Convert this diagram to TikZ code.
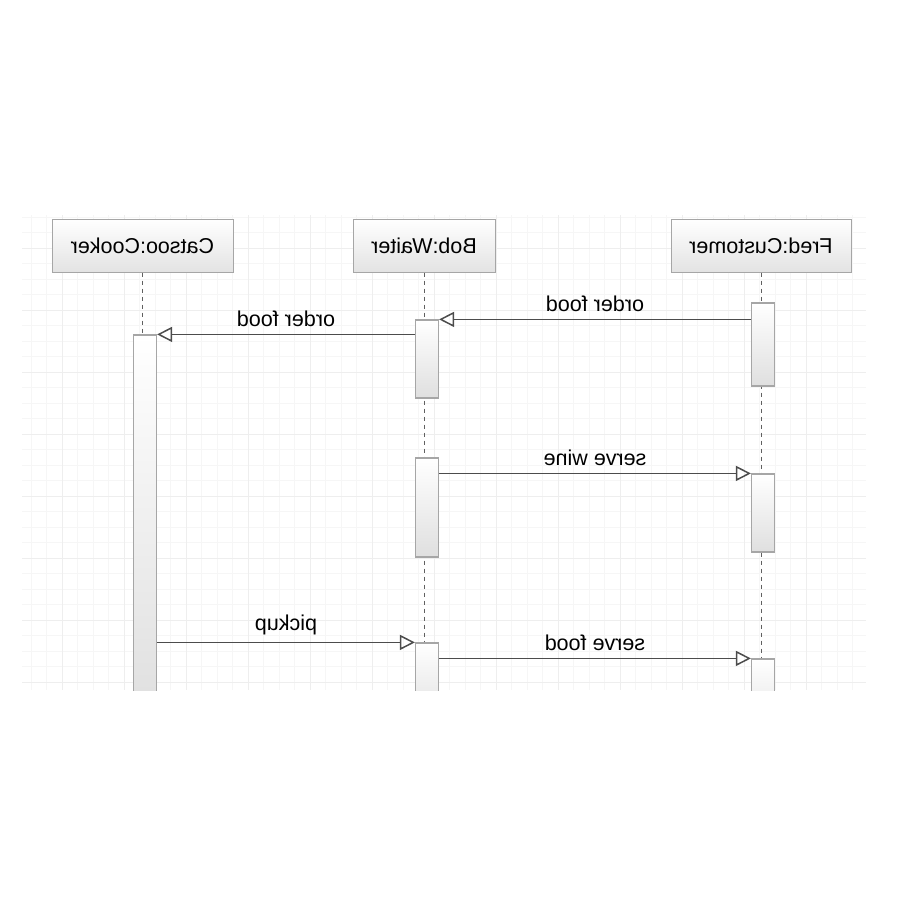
\documentclass[tikz,border=0pt]{standalone}
\usepackage{fontspec}
\setmainfont{Liberation Sans}
\usetikzlibrary{arrows.meta}

\begin{document}
\begin{tikzpicture}[x=1pt,y=-1pt]\tikzset{head/.style = {shape=rectangle, draw=gray!70, line width=1pt, top color=white, bottom color=gray!22, minimum height=53pt, xscale=-1, font=\fontsize{21.5}{25}\selectfont},
	act/.style = {shape=rectangle, draw=gray!70, line width=1.2pt, top color=white, bottom color=gray!25, minimum width=23pt, inner sep=0pt},
	lifeline/.style = {draw=gray!75!black, line width=1pt, dash pattern=on 4pt off 4pt},
	msg/.style = {draw=black!70, line width=1.5pt, -{Triangle[open, length=15pt, width=15pt]}},
	lbl/.style = {xscale=-1, inner sep=6.5pt, font=\fontsize{21.5}{25}\selectfont}}

		\useasboundingbox (0,0) rectangle (900,900);
		\begin{scope}[y=1pt]
		\draw[gray!7, line width=0.8pt, step=15.5] (22,-690) grid (866,-215);
		\draw[gray!13, line width=1pt, step=62] (22,-690) grid (866,-215);
		\end{scope}

		\node[head, minimum width=181pt] (cook) at (142.5,245.5) {Catsoo:Cooker};
		\node[head, minimum width=142pt] (waiter) at (424,245.5) {Bob:Waiter};
		\node[head, minimum width=180pt] (cust) at (761,245.5) {Fred:Customer};

		\coordinate (cookEnd) at (cook.south |- 0,690);
		\coordinate (waiterEnd) at (waiter.south |- 0,690);
		\coordinate (custEnd) at (cust.south |- 0,690);

		\begin{scope}
		\clip (0,0) rectangle (900,690);
		\draw[lifeline] (cook.south) -- (cookEnd);
		\draw[lifeline] (waiter.south) -- (waiterEnd);
		\draw[lifeline] (cust.south) -- (custEnd);

		\node[act, minimum height=380pt] (cook1) at (145,525) {};
		\node[act, minimum height=78pt] (wait1) at (427,359) {};
		\node[act, minimum height=99pt] (wait2) at (427,507.5) {};
		\node[act, minimum height=80pt] (wait3) at (427,683) {};
		\node[act, minimum height=83pt] (cust1) at (763,344.5) {};
		\node[act, minimum height=78pt] (cust2) at (763,513) {};
		\node[act, minimum height=80pt] (cust3) at (763,699) {};
		\end{scope}

		\draw[msg] (cust1.west |- wait1.north) -- (wait1.north east) node[midway, above, lbl] {order food};
		\draw[msg] (wait1.west |- cook1.north) -- (cook1.north east) node[midway, above, lbl] {order food};
		\draw[msg] (wait2.east |- cust2.north) -- (cust2.north west) node[midway, above, lbl] {serve wine};
		\draw[msg] (cook1.east |- wait3.north) -- (wait3.north west) node[midway, above, lbl] {pickup};
		\draw[msg] (wait3.east |- cust3.north) -- (cust3.north west) node[midway, above, lbl] {serve food};
	\end{tikzpicture}
\end{document}
